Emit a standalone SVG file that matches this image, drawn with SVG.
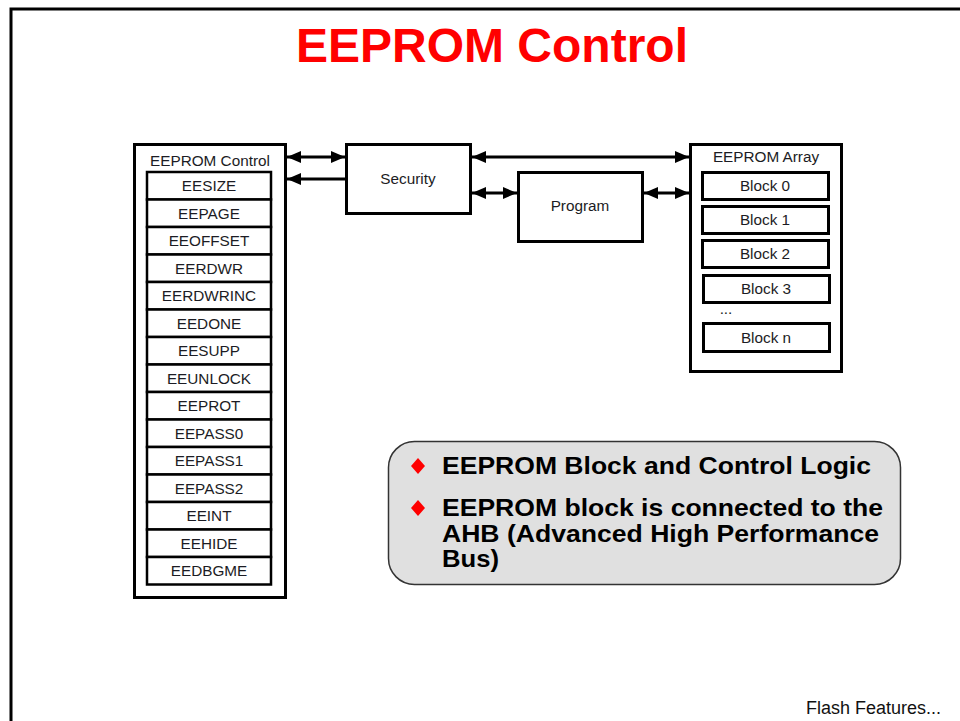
<svg xmlns="http://www.w3.org/2000/svg" width="960" height="721" viewBox="0 0 960 721">
  <defs>
    <marker id="head" viewBox="0 0 14 12" markerWidth="14" markerHeight="12" refX="14" refY="6" orient="auto-start-reverse" markerUnits="userSpaceOnUse">
      <path d="M0,0 L14,6 L0,12 z" fill="#000"/>
    </marker>
  </defs>
  <style>
    .lbl { font-family: "Liberation Sans", Arial, sans-serif; font-size: 15.3px; fill: #1c1c24; text-anchor: middle; }
    .box { fill: #fff; stroke: #000; stroke-width: 3; }
    .row { fill: #fff; stroke: #000; stroke-width: 2.5; }
    .blk { fill: #fff; stroke: #000; stroke-width: 3; }
    .wire { stroke: #000; stroke-width: 3; fill: none; }
    .bullet { font-family: "Liberation Sans", Arial, sans-serif; font-size: 24px; font-weight: bold; fill: #000; }
  </style>

  <rect width="960" height="721" fill="#fff"/>

  <!-- page frame -->
  <path d="M11,721 V9 H960" fill="none" stroke="#000" stroke-width="3"/>

  <!-- title -->
  <text x="492" y="62" font-family="'Liberation Sans', Arial, sans-serif" font-size="48" font-weight="bold" fill="#ff0000" text-anchor="middle">EEPROM Control</text>

  <!-- register block -->
  <g id="eeprom-control">
    <rect class="box" x="134.5" y="144.5" width="151" height="453"/>
    <text class="lbl" x="210" y="166">EEPROM Control</text>
    <rect class="row" x="147" y="172" width="124" height="27.5"/>
    <text class="lbl" x="209" y="191">EESIZE</text>
    <rect class="row" x="147" y="199.5" width="124" height="27.5"/>
    <text class="lbl" x="209" y="218.5">EEPAGE</text>
    <rect class="row" x="147" y="227" width="124" height="27.5"/>
    <text class="lbl" x="209" y="246">EEOFFSET</text>
    <rect class="row" x="147" y="254.5" width="124" height="27.5"/>
    <text class="lbl" x="209" y="273.5">EERDWR</text>
    <rect class="row" x="147" y="282" width="124" height="27.5"/>
    <text class="lbl" x="209" y="301">EERDWRINC</text>
    <rect class="row" x="147" y="309.5" width="124" height="27.5"/>
    <text class="lbl" x="209" y="328.5">EEDONE</text>
    <rect class="row" x="147" y="337" width="124" height="27.5"/>
    <text class="lbl" x="209" y="356">EESUPP</text>
    <rect class="row" x="147" y="364.5" width="124" height="27.5"/>
    <text class="lbl" x="209" y="383.5">EEUNLOCK</text>
    <rect class="row" x="147" y="392" width="124" height="27.5"/>
    <text class="lbl" x="209" y="411">EEPROT</text>
    <rect class="row" x="147" y="419.5" width="124" height="27.5"/>
    <text class="lbl" x="209" y="438.5">EEPASS0</text>
    <rect class="row" x="147" y="447" width="124" height="27.5"/>
    <text class="lbl" x="209" y="466">EEPASS1</text>
    <rect class="row" x="147" y="474.5" width="124" height="27.5"/>
    <text class="lbl" x="209" y="493.5">EEPASS2</text>
    <rect class="row" x="147" y="502" width="124" height="27.5"/>
    <text class="lbl" x="209" y="521">EEINT</text>
    <rect class="row" x="147" y="529.5" width="124" height="27.5"/>
    <text class="lbl" x="209" y="548.5">EEHIDE</text>
    <rect class="row" x="147" y="557" width="124" height="27.5"/>
    <text class="lbl" x="209" y="576">EEDBGME</text>
  </g>

  <g id="security">
    <rect class="box" x="346.5" y="144.5" width="124" height="69"/>
    <text class="lbl" x="408" y="184">Security</text>
  </g>

  <g id="program">
    <rect class="box" x="518.5" y="172.5" width="124" height="69"/>
    <text class="lbl" x="580" y="211">Program</text>
  </g>

  <g id="eeprom-array">
    <rect class="box" x="690.5" y="144.5" width="151" height="227"/>
    <text class="lbl" x="766" y="162">EEPROM Array</text>
    <rect class="blk" x="702.5" y="172.5" width="126" height="27"/>
    <text class="lbl" x="765" y="191">Block 0</text>
    <rect class="blk" x="702.5" y="206.5" width="126" height="27"/>
    <text class="lbl" x="765" y="225">Block 1</text>
    <rect class="blk" x="702.5" y="240.5" width="126" height="27"/>
    <text class="lbl" x="765" y="259">Block 2</text>
    <rect class="blk" x="703.5" y="275.5" width="126" height="27"/>
    <text class="lbl" x="766" y="294">Block 3</text>
    <text class="lbl" x="726" y="314" font-size="11">...</text>
    <rect class="blk" x="703.5" y="323.5" width="126" height="28"/>
    <text class="lbl" x="766" y="343">Block n</text>
  </g>

  <!-- bus connections -->
  <g id="connectors">
    <line class="wire" x1="287" y1="157" x2="345" y2="157" marker-start="url(#head)" marker-end="url(#head)"/>
    <line class="wire" x1="345" y1="179" x2="287" y2="179" marker-end="url(#head)"/>
    <line class="wire" x1="472" y1="157" x2="689" y2="157" marker-start="url(#head)" marker-end="url(#head)"/>
    <line class="wire" x1="472" y1="193" x2="517" y2="193" marker-start="url(#head)" marker-end="url(#head)"/>
    <line class="wire" x1="644" y1="193" x2="689" y2="193" marker-start="url(#head)" marker-end="url(#head)"/>
  </g>

  <!-- summary callout -->
  <g id="callout">
    <rect x="388.5" y="441.5" width="512" height="143" rx="26" ry="26" fill="#e0e0e0" stroke="#333" stroke-width="1.5"/>
    <path d="M418,458 L425,466 L418,474 L411,466 z" fill="#ff0000"/>
    <path d="M418,500 L425,508 L418,516 L411,508 z" fill="#ff0000"/>
    <text class="bullet" x="442" y="474" textLength="429" lengthAdjust="spacingAndGlyphs">EEPROM Block and Control Logic</text>
    <text class="bullet" x="442" y="516" textLength="441" lengthAdjust="spacingAndGlyphs">EEPROM block is connected to the</text>
    <text class="bullet" x="442" y="542" textLength="437" lengthAdjust="spacingAndGlyphs">AHB (Advanced High Performance</text>
    <text class="bullet" x="442" y="567" textLength="57" lengthAdjust="spacingAndGlyphs">Bus)</text>
  </g>

  <text x="806" y="714" font-family="'Liberation Sans', Arial, sans-serif" font-size="18" fill="#111">Flash Features...</text>
</svg>
